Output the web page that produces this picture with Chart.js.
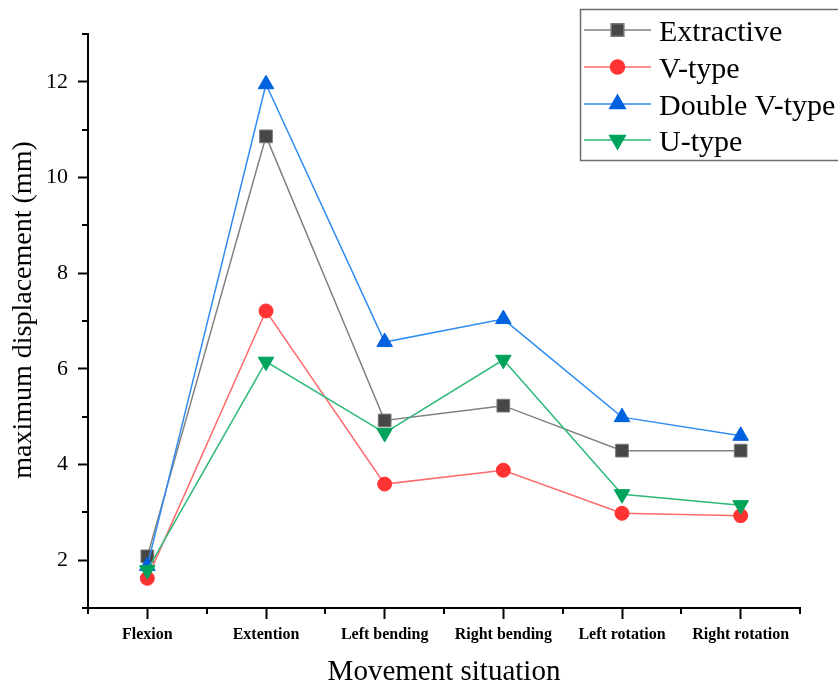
<!DOCTYPE html>
<html lang="en">
<head>
  <meta charset="UTF-8">
  <title>Maximum displacement</title>
  <style>
    html, body {
      margin: 0;
      padding: 0;
      background: #ffffff;
    }
    #wrap {
      width: 838px;
      height: 684px;
    }
  </style>
  <script src="https://cdn.jsdelivr.net/npm/chart.js"></script>
</head>
<body>
  <div id="wrap"><canvas id="dispChart" width="838" height="684"></canvas></div>

  <script>
    // data
    const movements = ['Flexion', 'Extention', 'Left bending', 'Right bending', 'Left rotation', 'Right rotation'];
    const extractive = [2.08, 10.86, 4.92, 5.23, 4.29, 4.29];
    const vType = [1.62, 7.21, 3.59, 3.88, 2.98, 2.93];
    const doubleVType = [1.88, 11.95, 6.56, 7.04, 4.99, 4.60];
    const uType = [1.79, 6.15, 4.66, 6.19, 3.38, 3.15];
    const yTicks = [2, 4, 6, 8, 10, 12];
    const yMinorTicks = [1, 3, 5, 7, 9, 11, 13];

    const serif = "'Liberation Serif', 'Times New Roman', serif";

    // minor ticks, axis titles and the boxed legend
    const extrasPlugin = {
      id: 'extras',
      afterDraw(chart) {
        const ctx = chart.ctx;
        const area = chart.chartArea;
        const yScale = chart.scales.y;
        ctx.save();
        ctx.strokeStyle = '#000';
        ctx.lineWidth = 2;
        yMinorTicks.forEach(v => {
          const py = Math.round(yScale.getPixelForValue(v));
          ctx.beginPath();
          ctx.moveTo(area.left - 6, py);
          ctx.lineTo(area.left, py);
          ctx.stroke();
        });
        const step = (area.right - area.left) / movements.length;
        for (let i = 0; i <= movements.length; i++) {
          const px = Math.round(area.left + i * step);
          ctx.beginPath();
          ctx.moveTo(px, area.bottom);
          ctx.lineTo(px, area.bottom + 6);
          ctx.stroke();
        }

        // axis titles
        ctx.fillStyle = '#000';
        ctx.font = '29px ' + serif;
        ctx.textAlign = 'center';
        ctx.textBaseline = 'alphabetic';
        ctx.fillText('Movement situation', 444, 680);

        ctx.save();
        ctx.translate(24, 310);
        ctx.rotate(-Math.PI / 2);
        ctx.font = '28px ' + serif;
        ctx.textBaseline = 'middle';
        ctx.fillText('maximum displacement (mm)', 0, 0);
        ctx.restore();

        // legend
        ctx.strokeStyle = '#6e6e6e';
        ctx.lineWidth = 1.5;
        ctx.strokeRect(580.5, 9.5, 300, 151);
        const rows = [30, 67, 104, 140];
        chart.data.datasets.forEach((ds, i) => {
          const ry = rows[i];
          ctx.strokeStyle = ds.borderColor;
          ctx.lineWidth = 1.5;
          ctx.beginPath();
          ctx.moveTo(584, ry);
          ctx.lineTo(651, ry);
          ctx.stroke();
          ctx.fillStyle = ds.pointBackgroundColor;
          ctx.strokeStyle = ds.pointBorderColor;
          Chart.helpers.drawPoint(ctx, {
            pointStyle: ds.pointStyle,
            radius: ds.pointRadius,
            rotation: ds.pointRotation || 0,
            borderWidth: 1
          }, 617.5, ry);
          ctx.fillStyle = '#000';
          ctx.font = '30px ' + serif;
          ctx.textAlign = 'left';
          ctx.textBaseline = 'alphabetic';
          ctx.fillText(ds.label, 659, ry + 10.5);
        });
        ctx.restore();
      }
    };

    const ctx = document.getElementById('dispChart').getContext('2d');
    const dispChart = new Chart(ctx, {
      type: 'line',
      data: {
        labels: movements,
        datasets: [{
          label: 'Extractive',
          data: extractive,
          borderColor: '#808080',
          borderWidth: 1.5,
          pointStyle: 'rect',
          pointRadius: 9,
          pointBackgroundColor: '#474747',
          pointBorderColor: '#7a7a7a',
          pointBorderWidth: 1,
          order: 4
        }, {
          label: 'V-type',
          data: vType,
          borderColor: '#ff6a6a',
          borderWidth: 1.5,
          pointStyle: 'circle',
          pointRadius: 7,
          pointBackgroundColor: '#ff3333',
          pointBorderColor: '#ff3333',
          pointBorderWidth: 1,
          order: 3
        }, {
          label: 'Double V-type',
          data: doubleVType,
          borderColor: '#2f8cf0',
          borderWidth: 1.5,
          pointStyle: 'triangle',
          pointRadius: 9,
          pointBackgroundColor: '#0062df',
          pointBorderColor: '#0062df',
          pointBorderWidth: 1,
          order: 2
        }, {
          label: 'U-type',
          data: uType,
          borderColor: '#2dba78',
          borderWidth: 1.5,
          pointStyle: 'triangle',
          pointRotation: 180,
          pointRadius: 9,
          pointBackgroundColor: '#00a35c',
          pointBorderColor: '#00a35c',
          pointBorderWidth: 1,
          order: 1
        }]
      },
      options: {
        responsive: false,
        animation: false,
        layout: {
          padding: { top: 34, right: 38, left: 0, bottom: 0 }
        },
        plugins: {
          legend: { display: false },
          tooltip: { enabled: false }
        },
        scales: {
          x: {
            type: 'category',
            offset: true,
            afterFit(scale) { scale.height = 76; },
            border: { display: true, color: '#000', width: 2 },
            grid: {
              offset: false,
              drawOnChartArea: false,
              drawTicks: true,
              tickLength: 11,
              tickColor: '#000',
              tickWidth: 2
            },
            ticks: {
              color: '#000',
              padding: 6,
              maxRotation: 0,
              autoSkip: false,
              font: { family: serif, size: 16, weight: 'bold' }
            }
          },
          y: {
            min: 1,
            max: 13,
            afterFit(scale) { scale.width = 88; },
            afterBuildTicks(scale) {
              scale.ticks = yTicks.map(v => ({ value: v }));
            },
            border: { display: true, color: '#000', width: 2 },
            grid: {
              drawOnChartArea: false,
              drawTicks: true,
              tickLength: 10,
              tickColor: '#000',
              tickWidth: 2
            },
            ticks: {
              color: '#000',
              padding: 10,
              font: { family: serif, size: 22 }
            }
          }
        }
      },
      plugins: [extrasPlugin]
    });
  </script>
</body>
</html>
